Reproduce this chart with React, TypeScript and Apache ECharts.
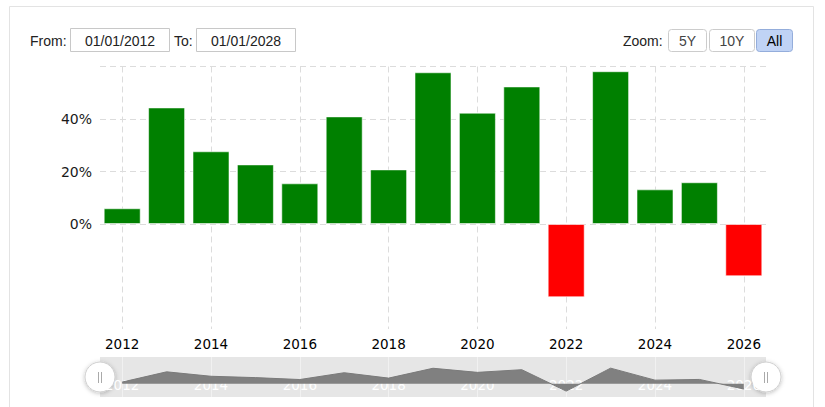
import React, { useEffect, useRef } from "react";
import * as echarts from "echarts";

const years = [2012, 2013, 2014, 2015, 2016, 2017, 2018, 2019, 2020, 2021, 2022, 2023, 2024, 2025, 2026];
const changes = [6.0, 44.4, 27.7, 22.7, 15.5, 41.0, 20.8, 57.8, 42.4, 52.4, -27.9, 58.2, 13.2, 15.9, -19.9];
const yLabelValues = [0, 20, 40];
const yGridValues = [0, 20, 40, 60];
const fromLabel = "From:";
const toLabel = "To:";
const fromDate = "01/01/2012";
const toDate = "01/01/2028";
const zoomLabel = "Zoom:";
const zoomButtons = ["5Y", "10Y", "All"];
const activeButton = "All";

const POS = "#008000";
const NEG = "#ff0000";
const AXIS_FONT = "DejaVu Sans";
const UI_FONT = "Liberation Sans";

export default function App() {
  const ref = useRef<HTMLDivElement>(null);
  useEffect(() => {
    const chart = echarts.init(ref.current as HTMLDivElement, null, { renderer: "svg" });
    const points = years.map((y, i) => [y, changes[i]]);
    const yMin = -40;
    const yMax = 60;
    const yStep = 20;
    const splitColors: string[] = [];
    for (let v = yMin; v <= yMax; v += yStep) {
      splitColors.push(yGridValues.indexOf(v) >= 0 ? "#dcdcdc" : "rgba(0,0,0,0)");
    }
    const yearFmt = (v: number) => (Number.isInteger(v) ? String(v) : "");

    const btnX = [668.5, 709.5, 756.5];
    const btnW = [38, 45, 36];
    const buttons: any[] = [];
    zoomButtons.forEach((b, i) => {
      const active = b === activeButton;
      buttons.push({
        type: "rect",
        shape: { x: btnX[i], y: 29.5, width: btnW[i], height: 22, r: 3 },
        style: { fill: active ? "#c0d3f5" : "#fff", stroke: active ? "#94addb" : "#cccccc", lineWidth: 1 },
        z: 10,
      });
      buttons.push({
        type: "text",
        x: btnX[i] + btnW[i] / 2,
        y: 40.5,
        style: {
          text: b,
          fill: active ? "#000" : "#444",
          font: `14px "${UI_FONT}"`,
          align: "center",
          verticalAlign: "middle",
        },
        z: 11,
      });
    });

    const handle = (cx: number) => ({
      type: "group",
      z: 20,
      children: [
        {
          type: "circle",
          shape: { cx, cy: 377, r: 15 },
          style: {
            fill: "#fff",
            stroke: "#d0d0d0",
            lineWidth: 1,
            shadowBlur: 4,
            shadowColor: "rgba(0,0,0,0.25)",
            shadowOffsetY: 1,
          },
        },
        { type: "line", shape: { x1: cx - 1.5, y1: 372, x2: cx - 1.5, y2: 383 }, style: { stroke: "#aaa", lineWidth: 1 } },
        { type: "line", shape: { x1: cx + 1.5, y1: 372, x2: cx + 1.5, y2: 383 }, style: { stroke: "#aaa", lineWidth: 1 } },
      ],
    });

    const option: any = {
      animation: false,
      backgroundColor: "#fff",
      textStyle: { fontFamily: AXIS_FONT },
      grid: [
        { left: 100, top: 66.5, width: 666, height: 262.5, containLabel: false },
        { left: 100, top: 357, width: 666, height: 40, show: true, backgroundColor: "#e6e6e6", borderWidth: 0 },
      ],
      xAxis: [
        {
          type: "value",
          gridIndex: 0,
          min: 2011.5,
          max: 2026.5,
          splitNumber: 7,
          axisLine: { show: false, onZero: false },
          axisTick: { show: false },
          axisLabel: {
            formatter: yearFmt,
            showMinLabel: false,
            showMaxLabel: false,
            color: "#000",
            fontSize: 13.5,
            fontFamily: AXIS_FONT,
            margin: 8,
          },
          splitLine: {
            show: true,
            showMinLine: false,
            showMaxLine: false,
            lineStyle: { color: "#dcdcdc", type: [6, 4], width: 1 },
          },
        },
        {
          type: "value",
          gridIndex: 1,
          min: 2011.5,
          max: 2026.5,
          splitNumber: 7,
          axisLine: { show: false, onZero: false },
          axisTick: { show: false },
          axisLabel: {
            inside: true,
            formatter: yearFmt,
            showMinLabel: false,
            showMaxLabel: false,
            color: "#fff",
            fontSize: 13.5,
            fontFamily: AXIS_FONT,
            margin: 5,
          },
          splitLine: {
            show: true,
            showMinLine: false,
            showMaxLine: false,
            lineStyle: { color: "rgba(255,255,255,0.45)", width: 1 },
          },
        },
      ],
      yAxis: [
        {
          type: "value",
          gridIndex: 0,
          min: yMin,
          max: yMax,
          interval: yStep,
          axisLine: { show: false },
          axisTick: { show: false },
          axisLabel: {
            formatter: (v: number) => (yLabelValues.indexOf(v) >= 0 ? v + "%" : ""),
            color: "#1a1a1a",
            fontSize: 14,
            fontFamily: AXIS_FONT,
            margin: 8,
          },
          splitLine: { show: true, lineStyle: { color: splitColors, type: [6, 4], width: 1 } },
        },
        { type: "value", gridIndex: 1, min: -50, max: 100, show: false },
      ],
      series: [
        {
          type: "bar",
          xAxisIndex: 0,
          yAxisIndex: 0,
          data: points,
          barWidth: 37,
          z: 3,
          itemStyle: {
            color: (p: any) => (p.value[1] < 0 ? NEG : POS),
            borderColor: "rgba(255,255,255,0.55)",
            borderWidth: 1,
          },
        },
        {
          type: "line",
          xAxisIndex: 1,
          yAxisIndex: 1,
          data: points,
          symbol: "none",
          lineStyle: { color: "#7a7a7a", width: 1 },
          areaStyle: { color: "#808080", opacity: 1 },
          z: 2,
        },
      ],
      graphic: [
        {
          type: "rect",
          shape: { x: 9.5, y: 6.5, width: 804, height: 430 },
          style: { fill: "none", stroke: "#e3e3e3", lineWidth: 1 },
          z: 0,
          silent: true,
        },
        {
          type: "text",
          x: 30,
          y: 40.5,
          style: { text: fromLabel, fill: "#222", font: `14px "${UI_FONT}"`, verticalAlign: "middle" },
        },
        {
          type: "rect",
          shape: { x: 70.5, y: 28.5, width: 99, height: 23 },
          style: { fill: "#fff", stroke: "#c8c8c8", lineWidth: 1 },
        },
        {
          type: "text",
          x: 120,
          y: 40.5,
          style: { text: fromDate, fill: "#222", font: `14px "${UI_FONT}"`, align: "center", verticalAlign: "middle" },
        },
        {
          type: "text",
          x: 174,
          y: 40.5,
          style: { text: toLabel, fill: "#222", font: `14px "${UI_FONT}"`, verticalAlign: "middle" },
        },
        {
          type: "rect",
          shape: { x: 196.5, y: 28.5, width: 99, height: 23 },
          style: { fill: "#fff", stroke: "#c8c8c8", lineWidth: 1 },
        },
        {
          type: "text",
          x: 246,
          y: 40.5,
          style: { text: toDate, fill: "#222", font: `14px "${UI_FONT}"`, align: "center", verticalAlign: "middle" },
        },
        {
          type: "text",
          x: 623,
          y: 40.5,
          style: { text: zoomLabel, fill: "#222", font: `14px "${UI_FONT}"`, verticalAlign: "middle" },
        },
        ...buttons,
        handle(100),
        handle(766),
      ],
    };
    chart.setOption(option);
    return () => chart.dispose();
  }, []);
  return (
    <div
      ref={ref}
      style={{ position: "absolute", left: 0, top: 0, width: 825, height: 407, background: "#fff" }}
    />
  );
}
